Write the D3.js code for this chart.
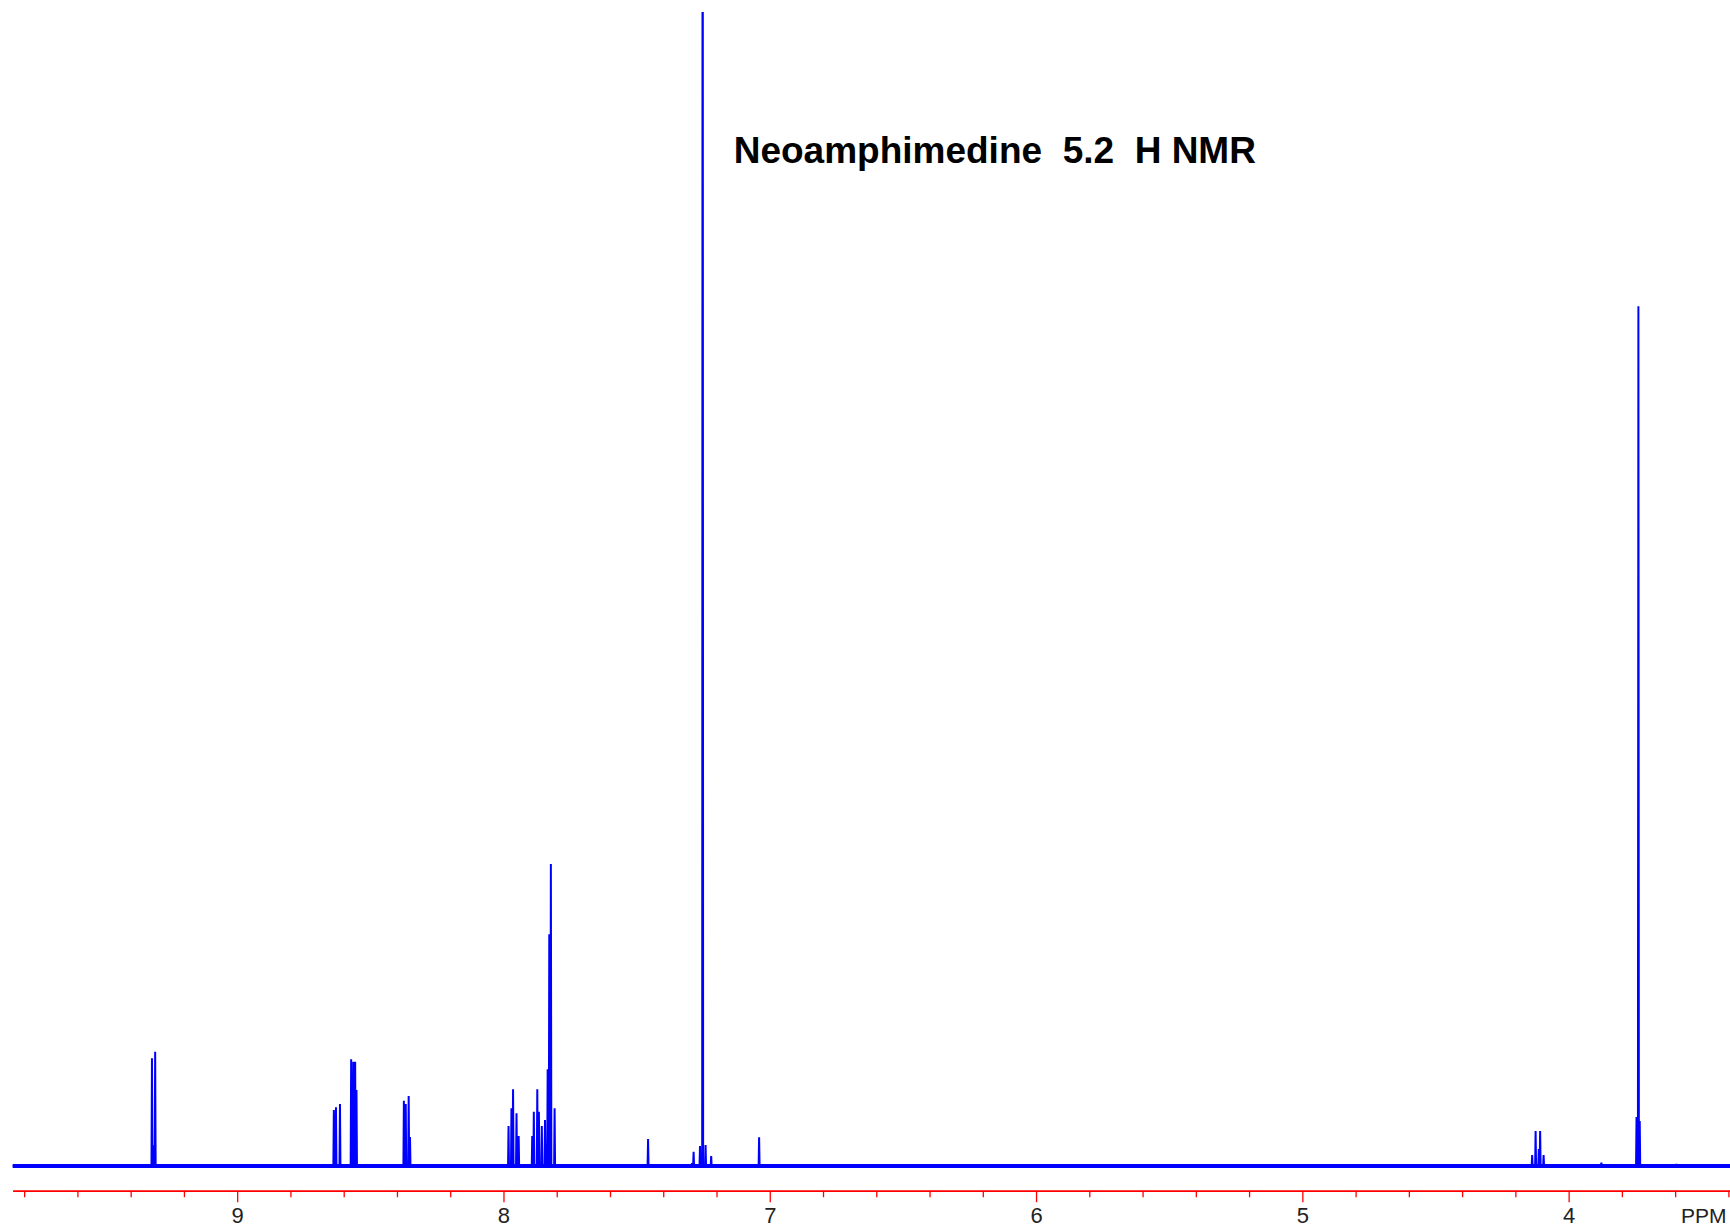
<!DOCTYPE html>
<html>
<head>
<meta charset="utf-8">
<script src="https://cdn.jsdelivr.net/npm/d3@7/dist/d3.min.js"></script>
<style>
  html, body { margin: 0; padding: 0; background: #ffffff; }
  svg { display: block; }
</style>
</head>
<body>
<svg id="chart" width="1730" height="1230"></svg>
<script>
// ---- data ----
const titleText = "Neoamphimedine  5.2  H NMR";
const axisLabel = "PPM";
const majorTicks = [9, 8, 7, 6, 5, 4];
const minorTicks = [9.8, 9.6, 9.4, 9.2, 8.8, 8.6, 8.4, 8.2, 7.8, 7.6, 7.4, 7.2,
                    6.8, 6.6, 6.4, 6.2, 5.8, 5.6, 5.4, 5.2, 4.8, 4.6, 4.4, 4.2, 3.8, 3.6, 3.4];
const ppmRange = [9.843, 3.394];
// peak positions (ppm) and relative intensities (100 = top of plot)
const peakPpm = [
  9.320, 9.315, 9.308,
  8.637, 8.629, 8.614,
  8.572, 8.564, 8.557, 8.552,
  8.374, 8.367, 8.356, 8.351,
  7.981, 7.970, 7.964, 7.951, 7.943,
  7.892, 7.886, 7.873, 7.867, 7.856,
  7.844, 7.834, 7.828, 7.822, 7.808,
  7.457,
  7.292, 7.286, 7.262, 7.252, 7.241, 7.220,
  7.040,
  4.137, 4.124, 4.112, 4.107, 4.094,
  3.877,
  3.745, 3.738, 3.733,
  3.595
];
const peakInt = [
  9.33, 1.8, 9.90,
  4.85, 5.09, 5.37,
  9.25, 9.04, 9.04, 6.59,
  5.66, 5.37, 6.07, 2.51,
  3.47, 5.00, 6.65, 4.57, 2.60,
  2.60, 4.71, 6.65, 4.71, 3.47,
  3.99, 8.38, 20.08, 26.17, 5.00,
  2.34,
  0.25, 1.24, 1.73, 150, 1.82, 0.87,
  2.49,
  0.95, 3.03, 1.47, 3.03, 0.95,
  0.29,
  4.25, 74.5, 3.90,
  0.17
];

// ---- layout ----
const svg = d3.select("#chart");
const x = d3.scaleLinear().domain(ppmRange).range([12.7, 1730]);
const y = d3.scaleLinear().domain([0, 100]).range([1166, 12]);

svg.append("defs").append("clipPath").attr("id", "plotclip")
  .append("rect").attr("x", 0).attr("y", 12).attr("width", 1730).attr("height", 1170);

// build trace from peaks
const halfW = 0.0018;
const pts = [[ppmRange[0], 0]];
const order = d3.range(peakPpm.length).sort((a, b) => peakPpm[b] - peakPpm[a]);
order.forEach(i => {
  pts.push([peakPpm[i] + halfW, 0]);
  pts.push([peakPpm[i], peakInt[i]]);
  pts.push([peakPpm[i] - halfW, 0]);
});
pts.push([ppmRange[1], 0]);

const line = d3.line().x(d => x(d[0])).y(d => y(d[1]));
const g = svg.append("g").attr("clip-path", "url(#plotclip)");

// baseline band (noise band of the spectrum)
g.append("path")
  .datum([[ppmRange[0], 0], [ppmRange[1], 0]])
  .attr("d", line)
  .attr("fill", "none")
  .attr("stroke", "#0000ff")
  .attr("stroke-width", 4);

g.append("path")
  .datum(pts)
  .attr("d", line)
  .attr("fill", "none")
  .attr("stroke", "#0000ff")
  .attr("stroke-width", 2)
  .attr("stroke-linejoin", "miter")
  .attr("stroke-miterlimit", 1);

// ---- axis ----
const axisY = 1190.7;
const minorAxis = d3.axisBottom(x).tickValues(minorTicks).tickSize(6.5).tickSizeOuter(0).tickFormat("");
const majorAxis = d3.axisBottom(x).tickValues(majorTicks).tickSize(11.5).tickSizeOuter(0)
  .tickPadding(5.5).tickFormat(d3.format("d"));

const ga = svg.append("g").attr("transform", `translate(0,${axisY})`).call(minorAxis);
const gb = svg.append("g").attr("transform", `translate(0,${axisY})`).call(majorAxis);
[ga, gb].forEach(s => {
  s.select(".domain").attr("stroke", "#ff0000").attr("stroke-width", 1.6);
  s.selectAll(".tick line").attr("stroke", "#ff0000").attr("stroke-width", 1.3);
  s.selectAll(".tick text")
    .attr("fill", "#222")
    .attr("font-family", "'Liberation Sans', Arial, sans-serif")
    .attr("font-size", 22);
});

svg.append("text")
  .attr("x", x(3.5) + 2)
  .attr("y", 1222.7)
  .attr("text-anchor", "middle")
  .attr("font-family", "'Liberation Sans', Arial, sans-serif")
  .attr("font-size", 21)
  .attr("fill", "#222")
  .text(axisLabel);

// ---- title ----
svg.append("text")
  .attr("x", 733.7)
  .attr("y", 163)
  .attr("font-family", "'Liberation Sans', Arial, sans-serif")
  .attr("font-weight", "bold")
  .attr("font-size", 37)
  .attr("fill", "#000")
  .style("white-space", "pre")
  .text(titleText);
</script>
</body>
</html>
